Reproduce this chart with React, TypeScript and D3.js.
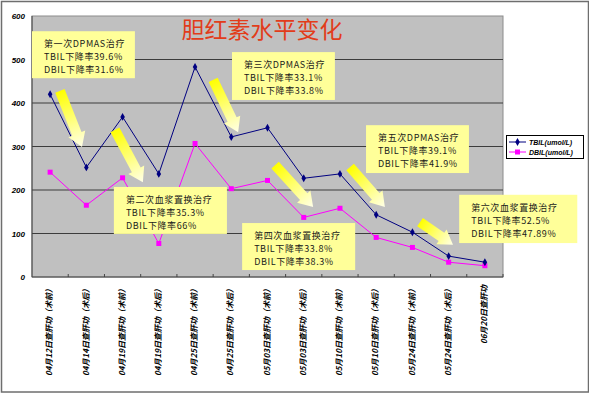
import * as d3 from 'd3';

const categories = [
  '04月12日查肝功（术前）', '04月14日查肝功（术后）', '04月19日查肝功（术前）', '04月19日查肝功（术后）',
  '04月25日查肝功（术前）', '04月25日查肝功（术后）', '05月03日查肝功（术前）', '05月03日查肝功（术后）',
  '05月10日查肝功（术前）', '05月10日查肝功（术后）', '05月24日查肝功（术前）', '05月24日查肝功（术后）',
  '06月20日查肝功',
];
const tbil = [420, 252, 368, 237, 483, 322, 343, 227, 237, 143, 103, 48, 34];
const dbil = [241, 165, 228, 77, 307, 203, 222, 137, 158, 91, 68, 34, 26];
const yTicks = [0, 100, 200, 300, 400, 500, 600];
const seriesNames = ['TBIL(umol/L)', 'DBIL(umol/L)'];

// callout boxes, in (category index, value) units
const notes = [
  { lines: ['第一次DPMAS治疗', 'TBIL下降率39.6%', 'DBIL下降率31.6%'], i0: -0.5, i1: 2.34, top: 565, bottom: 457 },
  { lines: ['第二次血浆置换治疗', 'TBIL下降率35.3%', 'DBIL下降率66%'], i0: 1.76, i1: 4.88, top: 207, bottom: 99 },
  { lines: ['第三次DPMAS治疗', 'TBIL下降率33.1%', 'DBIL下降率33.8%'], i0: 5.02, i1: 7.86, top: 517, bottom: 407 },
  { lines: ['第四次血浆置换治疗', 'TBIL下降率33.8%', 'DBIL下降率38.3%'], i0: 5.3, i1: 8.42, top: 124, bottom: 16 },
  { lines: ['第五次DPMAS治疗', 'TBIL下降率39.1%', 'DBIL下降率41.9%'], i0: 8.72, i1: 11.56, top: 349, bottom: 239 },
  { lines: ['第六次血浆置换治疗', 'TBIL下降率52.5%', 'DBIL下降率47.89%'], i0: 11.29, i1: 14.55, top: 189, bottom: 78 },
];
// arrows: tail -> tip, same units
const arrows = [
  [0.27, 428, 0.88, 299],
  [1.79, 338, 2.56, 218],
  [4.5, 453, 5.19, 333],
  [6.21, 257, 7.26, 161],
  [8.28, 253, 9.24, 161],
  [10.21, 126, 11.12, 74],
];

const W = 589;
const H = 393;
const plot = { left: 32, right: 503, top: 16, bottom: 277 };

export default function App() {
  const x = d3.scaleBand().domain(categories).range([plot.left, plot.right]);
  const xc = (c: string) => (x(c) ?? 0) + x.bandwidth() / 2;
  const xi = d3.scaleLinear().domain([-0.5, categories.length - 0.5]).range([plot.left, plot.right]);
  const y = d3.scaleLinear().domain([0, 600]).range([plot.bottom, plot.top]);

  const line = d3.line<number>().x((_, i) => xc(categories[i])).y(d => y(d));
  const diamond = d3.symbol().type(d3.symbolDiamond).size(18)();

  const tickFont = { fontFamily: 'Liberation Sans, Arial', fontWeight: 'bold', fontStyle: 'italic' } as const;

  return (
    <svg width={W} height={H} style={{ position: 'absolute', left: 0, top: 0, background: '#fff' }}>
      <defs>
        <linearGradient id="arrowGrad" x1="0" y1="0" x2="1" y2="0">
          <stop offset="0" stopColor="#ffff00" />
          <stop offset="0.55" stopColor="#ffff80" />
          <stop offset="1" stopColor="#ffffe8" />
        </linearGradient>
      </defs>
      <rect x={1.5} y={1.5} width={W - 2} height={H - 2.5} fill="#fff" stroke="#6e6e6e" strokeWidth={1.5} />

      {/* plot area */}
      <rect x={plot.left} y={plot.top} width={plot.right - plot.left} height={plot.bottom - plot.top}
        fill="#c0c0c0" stroke="#8c8c8c" />
      {yTicks.filter(t => t > 0 && t < 600).map(t => (
        <line key={t} x1={plot.left} x2={plot.right} y1={y(t)} y2={y(t)} stroke="#3c3c3c" strokeWidth={1} />
      ))}
      <line x1={plot.left} x2={plot.left} y1={plot.top} y2={plot.bottom} stroke="#444" />
      <line x1={plot.left} x2={plot.right} y1={plot.bottom} y2={plot.bottom} stroke="#444" />
      {categories.map(c => (
        <line key={c} x1={(x(c) ?? 0) + x.bandwidth()} x2={(x(c) ?? 0) + x.bandwidth()}
          y1={plot.bottom - 3} y2={plot.bottom} stroke="#444" />
      ))}
      {yTicks.map(t => (
        <text key={t} x={plot.left - 7} y={y(t) + 3} textAnchor="end" fontSize={8} {...tickFont}>{t}</text>
      ))}
      {categories.map(c => (
        <text key={c} x={xc(c)} y={285} transform={`rotate(-90, ${xc(c)}, 285)`} textAnchor="end"
          dominantBaseline="middle" fontSize={8} {...tickFont}
          style={{ fontFamily: 'Noto Sans CJK SC, sans-serif' }}>{c}</text>
      ))}

      {/* series */}
      <path d={line(dbil) ?? ''} fill="none" stroke="#ff00ff" strokeWidth={1} />
      <path d={line(tbil) ?? ''} fill="none" stroke="#000080" strokeWidth={1} />
      {dbil.map((v, i) => (
        <rect key={i} x={xc(categories[i]) - 2.5} y={y(v) - 2.5} width={5} height={5} fill="#ff00ff" />
      ))}
      {tbil.map((v, i) => (
        <path key={i} d={diamond ?? ''} transform={`translate(${xc(categories[i])},${y(v)})`} fill="#000080" />
      ))}

      {/* callouts */}
      {notes.map((n, k) => (
        <g key={k}>
          <rect x={xi(n.i0)} y={y(n.top)} width={xi(n.i1) - xi(n.i0)} height={y(n.bottom) - y(n.top)} fill="#ffff99" />
          {n.lines.map((l, j) => (
            <text key={j} x={xi(n.i0) + 12} y={y(n.top) + 16 + j * 13} fontSize={9} letterSpacing={0.6}
              fontFamily="Noto Sans CJK SC, sans-serif" fill="#1a1a1a">{l}</text>
          ))}
        </g>
      ))}
      {arrows.map((a, k) => {
        const x0 = xi(a[0]), y0 = y(a[1]), x1 = xi(a[2]), y1 = y(a[3]);
        const L = Math.hypot(x1 - x0, y1 - y0);
        const ang = (Math.atan2(y1 - y0, x1 - x0) * 180) / Math.PI;
        const hl = 14;
        const d = `M0,-5 L${L - hl},-5 L${L - hl},-9 L${L},0 L${L - hl},9 L${L - hl},5 L0,5 Z`;
        return <path key={k} d={d} transform={`translate(${x0},${y0}) rotate(${ang})`} fill="url(#arrowGrad)" />;
      })}

      {/* title */}
      <text x={262} y={38} textAnchor="middle" fontSize={23} fill="#e23c1a"
        fontFamily="Noto Sans CJK SC, sans-serif">胆红素水平变化</text>

      {/* legend */}
      <g transform="translate(506,135)">
        <rect x={0.5} y={0.5} width={77} height={23} fill="#fff" stroke="#000" />
        {seriesNames.map((s, i) => (
          <g key={s} transform={`translate(0,${7 + i * 10})`}>
            <line x1={3} x2={20} y1={0} y2={0} stroke={i === 0 ? '#000080' : '#ff00ff'} />
            {i === 0
              ? <path d={diamond ?? ''} transform="translate(11.5,0)" fill="#000080" />
              : <rect x={9} y={-2.5} width={5} height={5} fill="#ff00ff" />}
            <text x={23} y={2.5} fontSize={7} {...tickFont}>{s}</text>
          </g>
        ))}
      </g>
    </svg>
  );
}
